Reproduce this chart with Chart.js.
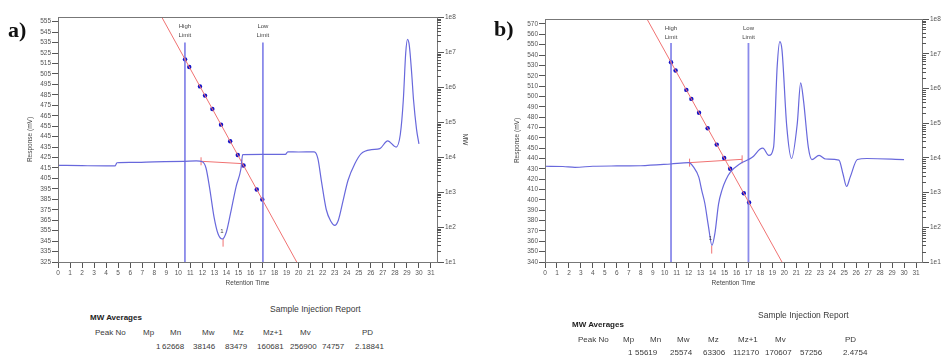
<!DOCTYPE html>
<html>
<head>
<meta charset="utf-8">
<script src="https://cdn.jsdelivr.net/npm/chart.js@4.4.0/dist/chart.umd.min.js"></script>
<style>
body{margin:0;width:945px;height:361px;overflow:hidden;background:#fff;position:relative;font-family:'Liberation Sans',Arial,sans-serif;}
canvas{position:absolute;top:0;}
#chartA{left:0;}
#chartB{left:475px;}
.t{position:absolute;font-size:8px;color:#3a3a3a;white-space:nowrap;line-height:1;}
.b{font-weight:bold;color:#222;}
.ttl{font-size:8.5px;}
.pl{position:absolute;font-family:'Liberation Serif','Times New Roman',serif;font-weight:bold;font-size:22px;line-height:1;color:#111;}
</style>
</head>
<body>
<canvas id="chartA" width="490" height="300"></canvas>
<canvas id="chartB" width="500" height="300"></canvas>

<div class="pl" style="left:8px;top:19px;">a)</div>
<div class="pl" style="left:494px;top:18px;">b)</div>

<!-- report tables -->
<div class="t ttl" style="left:270px;top:305px;">Sample Injection Report</div>
<div class="t b" style="left:90px;top:314px;">MW Averages</div>
<div class="t" style="left:95px;top:329px;">Peak No</div>
<div class="t" style="left:143px;top:329px;">Mp</div>
<div class="t" style="left:170px;top:329px;">Mn</div>
<div class="t" style="left:202px;top:329px;">Mw</div>
<div class="t" style="left:233px;top:329px;">Mz</div>
<div class="t" style="left:263px;top:329px;">Mz+1</div>
<div class="t" style="left:300px;top:329px;">Mv</div>
<div class="t" style="left:362px;top:329px;">PD</div>
<div class="t" style="left:156px;top:343px;">1</div>
<div class="t" style="left:162px;top:343px;">62668</div>
<div class="t" style="left:193px;top:343px;">38146</div>
<div class="t" style="left:225px;top:343px;">83479</div>
<div class="t" style="left:257px;top:343px;">160681</div>
<div class="t" style="left:290px;top:343px;">256900</div>
<div class="t" style="left:322px;top:343px;">74757</div>
<div class="t" style="left:355px;top:343px;">2.18841</div>

<div class="t ttl" style="left:758px;top:311px;">Sample Injection Report</div>
<div class="t b" style="left:572px;top:321px;">MW Averages</div>
<div class="t" style="left:578px;top:336px;">Peak No</div>
<div class="t" style="left:623px;top:336px;">Mp</div>
<div class="t" style="left:650px;top:336px;">Mn</div>
<div class="t" style="left:677px;top:336px;">Mw</div>
<div class="t" style="left:708px;top:336px;">Mz</div>
<div class="t" style="left:738px;top:336px;">Mz+1</div>
<div class="t" style="left:775px;top:336px;">Mv</div>
<div class="t" style="left:845px;top:336px;">PD</div>
<div class="t" style="left:628px;top:349px;">1</div>
<div class="t" style="left:635px;top:349px;">55619</div>
<div class="t" style="left:670px;top:349px;">25574</div>
<div class="t" style="left:703px;top:349px;">63306</div>
<div class="t" style="left:733px;top:349px;">112170</div>
<div class="t" style="left:765px;top:349px;">170607</div>
<div class="t" style="left:800px;top:349px;">57256</div>
<div class="t" style="left:843px;top:349px;">2.4754</div>

<script>
Chart.defaults.font.family = "'Liberation Sans', Arial, sans-serif";
Chart.defaults.color = '#555';

// shared axes
const xTicks = [0,1,2,3,4,5,6,7,8,9,10,11,12,13,14,15,16,17,18,19,20,21,22,23,24,25,26,27,28,29,30,31];
const mwTicks = [1e1, 1e2, 1e3, 1e4, 1e5, 1e6, 1e7, 1e8];

// panel a
const yTicksA = [325,335,345,355,365,375,385,395,405,415,425,435,445,455,465,475,485,495,505,515,525,535,545,555];
const timeA = [0, 2, 4, 4.75, 4.9, 6, 8, 10.5, 11.5, 12.0, 12.3, 12.6, 12.97, 13.3, 13.65, 14.0, 14.4, 14.8, 15.2, 15.35,
    17, 18.9, 19.1, 20, 21.3, 21.6, 21.9, 22.3, 22.7, 23.0, 23.3, 23.7, 24.1, 24.67, 25.2, 26.05, 26.75, 27.4, 28.1,
    28.45, 28.7, 28.9, 29.05, 29.2, 29.4, 29.55, 29.8, 30.0];
const respA = [417.5, 417.2, 417, 417, 420, 420.3, 420.8, 421.4, 421.8, 421, 415, 396, 368, 352, 347, 354, 375, 397, 414, 427.8,
    428, 428, 430.5, 430.3, 430.5, 424, 402, 375, 363.5, 360, 365, 384, 403, 419, 428.7, 432.5, 433.5, 441, 435,
    447, 480, 525, 538, 532, 505, 480, 452, 438];
const calTimeA = [8.62, 19.84];
const calMwA = [1e8, 1e1];
const dotTimeA = [10.56, 10.91, 11.80, 12.22, 12.83, 13.55, 14.31, 14.94, 15.42, 16.52, 16.98];
const dotMwA = [6.17e6, 3.72e6, 1.04e6, 5.67e5, 2.36e5, 8.4e4, 2.82e4, 1.14e4, 5.7e3, 1.18e3, 608];
const limitsA = [10.55, 17.03];
const baseTimeA = [11.89, 15.27];
const baseRespA = [421.4, 419.2];
const peakTimeA = [13.72];
const peakRespA = [343.5];

// panel b
const yTicksB = [340,350,360,370,380,390,400,410,420,430,440,450,460,470,480,490,500,510,520,530,540,550,560,570];
const timeB = [0, 1.5, 2.5, 4, 6, 8, 10.5, 12.0, 12.4, 12.85, 13.1, 13.35, 13.65, 13.95, 14.2, 14.5, 14.8, 15.1, 15.5,
    16.3, 17.0, 17.4, 17.95, 18.2, 18.7, 19.1, 19.4, 19.62, 19.8, 20.2, 20.6, 21.08, 21.36, 21.6, 22.0, 22.3, 22.9,
    23.45, 24.56, 24.9, 25.2, 25.5, 26.1, 26.9, 30];
const respB = [432.5, 432.3, 431.5, 432.5, 432.8, 433, 434.7, 436, 432, 422, 409, 397, 375, 356, 368, 396, 410, 419, 427,
    435, 439, 442, 449, 450, 443, 451, 529, 553, 545, 471, 440, 474, 513, 496, 451, 439, 443,
    439.5, 438.5, 425, 413, 422, 439, 440, 439];
const calTimeB = [8.52, 19.8];
const calMwB = [1e8, 1e1];
const dotTimeB = [10.53, 10.91, 11.81, 12.23, 12.87, 13.59, 14.35, 14.97, 15.47, 16.61, 17.05];
const dotMwB = [5.66e6, 3.29e6, 9.08e5, 4.99e5, 2.0e5, 7.14e4, 2.41e4, 9.9e3, 4.86e3, 953, 520];
const limitsB = [10.53, 17.0];
const baseTimeB = [12.08, 16.47];
const baseRespB = [436, 439.2];
const peakTimeB = [13.93];
const peakRespB = [352];

const traceBlue = '#6868dc';
const limitBlue = 'rgba(118,118,230,0.85)';
const calRed = '#f07272';
const dotBlue = '#1212c8';

function pts(xs, ys) {
    return xs.map((x, i) => ({x: x, y: ys[i]}));
}

function makePanel(id, p) {
    const decor = {
        id: 'decor',
        afterDraw(chart) {
            const {ctx, chartArea: a, scales} = chart;
            ctx.save();
            // plot frame
            ctx.strokeStyle = '#777';
            ctx.lineWidth = 1;
            ctx.strokeRect(a.left + 0.5, a.top + 0.5, a.right - a.left, a.bottom - a.top);
            // minor log ticks on the MW axis
            const s = scales.y2;
            ctx.strokeStyle = '#555';
            ctx.beginPath();
            for (let d = 0; d < mwTicks.length - 1; d++) {
                for (let k = 2; k <= 9; k++) {
                    const y = Math.round(s.getPixelForValue(mwTicks[d] * k)) + 0.5;
                    ctx.moveTo(a.right, y);
                    ctx.lineTo(a.right + 4, y);
                }
            }
            ctx.stroke();
            // limit labels
            ctx.fillStyle = '#444';
            ctx.font = "6px 'Liberation Sans', Arial, sans-serif";
            ctx.textAlign = 'center';
            ctx.textBaseline = 'middle';
            const names = ['High', 'Low'];
            p.limits.forEach((t, i) => {
                const x = scales.x.getPixelForValue(t);
                ctx.fillText(names[i], x, a.top + 9);
                ctx.fillText('Limit', x, a.top + 18);
            });
            // peak number
            ctx.fillText('1', scales.x.getPixelForValue(p.peakTime[0] - 0.1), scales.y.getPixelForValue(p.peakResp[0] + 11));
            ctx.restore();
        }
    };

    const datasets = [
        {data: pts(p.time, p.resp), yAxisID: 'y', borderColor: traceBlue, borderWidth: 1.2,
            showLine: true, pointRadius: 0, cubicInterpolationMode: 'monotone', tension: 0.3},
        {data: pts(p.calTime, p.calMw), yAxisID: 'y2', borderColor: calRed, borderWidth: 1,
            showLine: true, pointRadius: 0},
        {data: pts(p.baseTime, p.baseResp), yAxisID: 'y', borderColor: calRed, borderWidth: 1,
            showLine: true, pointStyle: 'line', rotation: 90, pointRadius: 4,
            pointBorderColor: calRed, pointBorderWidth: 1},
        {data: pts(p.peakTime, p.peakResp), yAxisID: 'y', showLine: false, pointStyle: 'line',
            rotation: 90, pointRadius: 4, pointBorderColor: calRed, pointBorderWidth: 1}
    ];
    p.limits.forEach(t => {
        datasets.push({data: pts([t, t], [p.limitTop, p.yMin]), yAxisID: 'y', borderColor: limitBlue,
            borderWidth: 1.8, showLine: true, pointRadius: 0});
    });
    datasets.push({data: pts(p.dotTime, p.dotMw), yAxisID: 'y2', showLine: false, pointRadius: 2.2,
        pointBackgroundColor: dotBlue, pointBorderWidth: 0});

    const small = {size: 6.5};
    return new Chart(document.getElementById(id), {
        type: 'scatter',
        data: {datasets: datasets},
        options: {
            responsive: false,
            animation: false,
            events: [],
            layout: {padding: {top: p.top, left: 0, right: 0, bottom: 0}},
            plugins: {legend: {display: false}, tooltip: {enabled: false}},
            scales: {
                x: {
                    type: 'linear', min: 0, max: 31.5,
                    afterBuildTicks: s => { s.ticks = xTicks.map(v => ({value: v})); },
                    afterFit: s => { s.height = 38; },
                    ticks: {autoSkip: false, maxRotation: 0, font: small, padding: 1, color: '#555'},
                    grid: {drawOnChartArea: false, tickLength: 6, tickColor: '#555'},
                    border: {color: '#444'},
                    title: {display: true, text: 'Retention Time', font: small, color: '#444', padding: {top: 0, bottom: 13}}
                },
                y: {
                    type: 'linear', position: 'left', min: p.yMin, max: p.yMax,
                    afterBuildTicks: s => { s.ticks = p.yTicks.map(v => ({value: v})); },
                    afterFit: s => { s.width = p.leftW; },
                    ticks: {autoSkip: false, font: small, padding: 1, color: '#555'},
                    grid: {drawOnChartArea: false, tickLength: 6, tickColor: '#555'},
                    border: {color: '#444'},
                    title: {display: true, text: 'Response (mV)', font: small, color: '#444', padding: {top: p.yTitlePad, bottom: 0}}
                },
                y2: {
                    type: 'logarithmic', position: 'right', min: 10, max: 1e8,
                    afterBuildTicks: s => { s.ticks = mwTicks.map(v => ({value: v})); },
                    afterFit: s => { s.width = p.rightW; },
                    ticks: {autoSkip: false, font: small, padding: 1, color: '#555',
                        callback: v => '1e' + Math.round(Math.log10(v))},
                    grid: {drawOnChartArea: false, tickLength: 7, tickColor: '#555'},
                    border: {color: '#444'},
                    title: {display: true, text: 'MW', font: small, color: '#444', padding: {top: p.y2TitlePad, bottom: 0}}
                }
            }
        },
        plugins: [decor]
    });
}

makePanel('chartA', {
    time: timeA, resp: respA, calTime: calTimeA, calMw: calMwA, dotTime: dotTimeA, dotMw: dotMwA,
    limits: limitsA, limitTop: 535, baseTime: baseTimeA, baseResp: baseRespA,
    peakTime: peakTimeA, peakResp: peakRespA,
    yMin: 325, yMax: 559.5, yTicks: yTicksA,
    top: 17, leftW: 58, rightW: 53, yTitlePad: 26, y2TitlePad: 21
});

makePanel('chartB', {
    time: timeB, resp: respB, calTime: calTimeB, calMw: calMwB, dotTime: dotTimeB, dotMw: dotMwB,
    limits: limitsB, limitTop: 551.5, baseTime: baseTimeB, baseResp: baseRespB,
    peakTime: peakTimeB, peakResp: peakRespB,
    yMin: 340, yMax: 574.8, yTicks: yTicksB,
    top: 19, leftW: 70, rightW: 53, yTitlePad: 38, y2TitlePad: 23
});
</script>
</body>
</html>
